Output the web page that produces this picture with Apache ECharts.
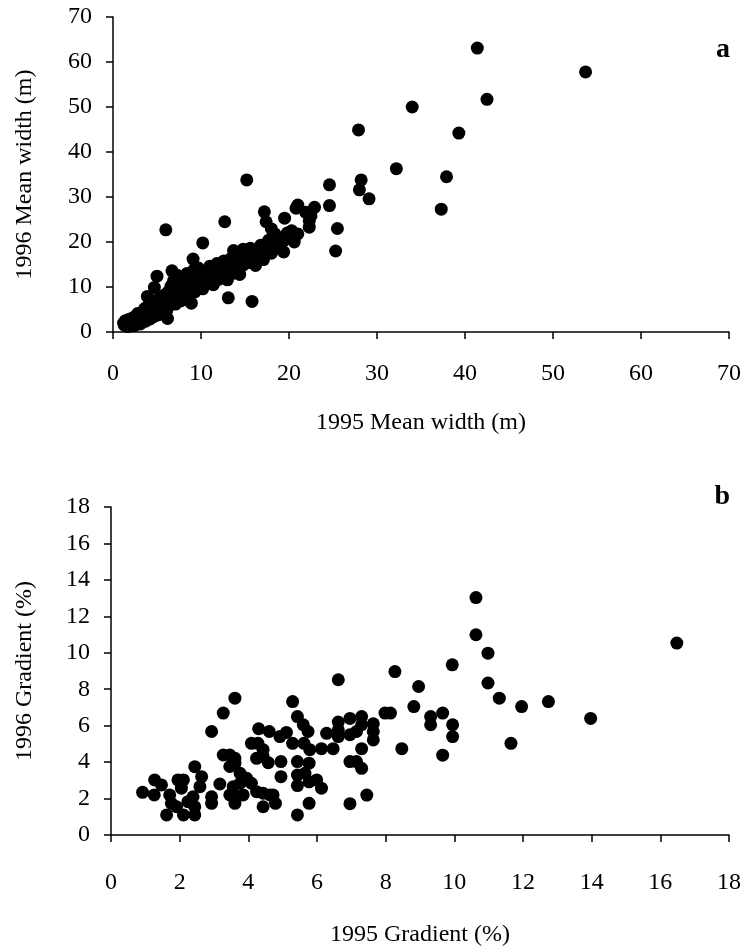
<!DOCTYPE html>
<html>
<head>
<meta charset="utf-8">
<script src="https://cdn.jsdelivr.net/npm/echarts@6/dist/echarts.min.js"></script>
<style>html,body{margin:0;padding:0;background:#fff}#c{width:744px;height:950px}</style>
</head>
<body>
<div id="c"></div>
<script>
// Panel a: mean width (m), [1995, 1996]
const widthOutliers = [
  [41.4,63.1],[53.7,57.8],[42.5,51.7],[34.0,50.0],[27.9,44.9],[39.3,44.2],[32.2,36.3],[37.9,34.5],
  [28.2,33.8],[28.0,31.6],[29.1,29.6],[37.3,27.3],[15.2,33.8],[24.6,32.7],[24.6,28.1],[22.9,27.7],
  [21.0,28.2],[20.8,27.5],[17.2,26.7],[12.7,24.5],[19.5,25.3],[21.9,26.6],[22.5,25.8],[22.3,24.7],
  [22.3,23.3],[25.5,23.0],[25.3,18.0],[17.4,24.5],[10.2,19.8],[18.0,22.9],[18.4,21.8],[20.3,22.5],
  [21.0,21.8],[6.0,22.7],[9.1,16.2],[13.7,18.1],[14.8,18.4],[13.1,7.6],[8.9,6.4],[6.2,3.0],
  [5.0,12.4],[4.7,9.9],[3.9,7.9],[15.8,6.8],[6.7,13.6],[19.4,17.8]
];
const widthCluster = [
  [1.2,2.0],[1.3,1.5],[1.4,2.5],[1.5,1.8],[1.6,2.2],[1.7,1.2],[1.8,2.8],[1.9,1.6],[2.0,2.3],[2.1,3.0],
  [2.2,1.9],[2.3,2.6],[2.4,1.4],[2.5,3.4],[2.6,2.1],[2.7,2.9],[2.8,4.1],[2.9,2.5],[3.0,3.2],[3.1,1.8],
  [3.2,3.8],[3.3,2.7],[3.4,4.5],[3.5,3.1],[3.6,5.2],[3.7,2.4],[3.8,4.0],[3.9,3.5],[4.0,5.8],[4.1,4.3],
  [4.2,2.9],[4.3,3.9],[4.4,6.2],[4.5,4.7],[4.6,3.4],[4.7,5.3],[4.8,7.0],[4.9,4.1],[5.0,5.7],[5.1,3.8],
  [5.2,6.4],[5.3,4.9],[5.4,7.6],[5.5,5.2],[5.6,4.3],[5.7,6.8],[5.8,5.5],[5.9,8.3],[6.0,6.1],[6.1,4.8],
  [6.2,7.3],[6.3,9.0],[6.4,5.9],[6.5,8.0],[6.6,10.2],[6.7,6.6],[6.8,7.7],[6.9,11.5],[7.0,8.5],[7.1,6.2],
  [7.2,9.4],[7.3,12.6],[7.4,7.9],[7.5,10.1],[7.6,8.7],[7.7,6.9],[7.8,11.0],[7.9,9.3],[8.0,12.0],[8.1,7.6],
  [8.2,10.5],[8.3,9.0],[8.4,13.0],[8.5,11.4],[8.6,8.3],[8.7,10.0],[8.8,12.4],[8.9,9.5],[9.0,11.2],[9.2,13.8],
  [9.3,8.9],[9.4,10.8],[9.5,12.2],[9.6,9.8],[9.7,14.2],[9.8,11.5],[9.9,10.3],[10.0,12.8],
  [10.2,9.6],[10.4,11.8],[10.6,13.5],[10.8,10.9],[11.0,14.6],[11.2,12.3],[11.4,10.5],[11.6,13.1],[11.8,15.2],
  [12.0,11.7],[12.2,14.0],[12.4,12.6],[12.6,15.8],[12.8,13.4],[13.0,11.6],[13.2,14.7],[13.4,16.3],[13.6,13.0],
  [13.8,15.2],[14.0,17.0],[14.2,14.1],[14.4,12.8],[14.6,16.0],[14.8,14.9],[15.0,17.6],
  [15.3,15.4],[15.6,18.6],[15.9,16.5],[16.2,14.8],[16.5,17.8],[16.8,19.3],[17.1,16.1],[17.4,18.5],[17.7,20.4],
  [18.0,17.5],[18.3,19.6],[18.6,21.0],[19.0,18.6],[19.4,20.3],[19.8,22.0],[20.2,21.2],[20.6,20.0]
];
// Panel b: gradient (%), [1995, 1996]
const gradientData = [
  [10.63,13.03],[10.63,10.99],[10.98,9.98],[9.94,9.34],[16.48,10.53],[8.27,8.97],[10.98,8.34],[11.31,7.51],
  [8.96,8.15],[11.96,7.05],[12.74,7.32],[13.97,6.4],[8.82,7.05],[6.62,8.52],[7.98,6.69],[8.14,6.69],
  [9.31,6.5],[9.31,6.05],[9.66,6.69],[9.95,6.05],[9.95,5.4],[11.65,5.03],[8.47,4.74],[9.66,4.38],
  [6.96,6.4],[7.3,6.5],[7.64,6.1],[7.64,5.68],[7.64,5.22],[6.62,6.2],[6.62,5.77],[6.62,5.4],
  [6.96,5.5],[7.15,5.68],[7.3,6.05],[6.28,5.58],[6.13,4.74],[6.47,4.74],[7.3,4.74],[6.96,4.03],
  [7.15,4.03],[7.3,3.66],[6.13,2.57],[7.45,2.19],[6.96,1.72],
  [3.61,7.51],[3.27,6.69],[5.29,7.32],[5.43,6.5],[2.93,5.68],[4.3,5.83],[4.61,5.68],[4.92,5.4],
  [5.11,5.63],[5.6,6.05],[5.74,5.68],[5.29,5.03],[5.62,5.03],[5.79,4.68],[4.09,5.03],[4.28,5.03],
  [4.43,4.68],[4.24,4.21],[4.43,4.31],[4.58,3.97],[4.95,4.03],[3.27,4.39],[3.46,4.39],[3.61,4.21],
  [3.46,3.76],[3.61,3.94],[4.95,3.2],[5.43,4.03],[5.43,3.29],[5.65,3.39],[5.43,2.71],[5.77,3.94],
  [5.77,2.92],[5.99,3.02],[5.77,1.74],[5.43,1.1],[3.76,3.39],[3.95,3.11],[4.09,2.84],[3.76,2.84],
  [3.56,2.65],[3.61,1.74],[3.17,2.8],[3.46,2.2],[3.66,2.1],[3.85,2.2],[4.24,2.38],[4.43,2.29],
  [4.63,2.2],[4.43,1.55],[4.79,1.74],[4.72,2.2],[2.44,3.75],[2.11,3.02],[2.64,3.2],[2.59,2.65],
  [2.39,2.1],[2.24,1.83],[2.93,2.1],[2.93,1.74],[2.44,1.55],[2.44,1.1],[2.11,1.1],[1.95,3.02],
  [2.05,2.57],[1.71,2.2],[1.76,1.74],[1.91,1.55],[1.62,1.1],[1.27,3.02],[1.47,2.75],[0.92,2.34],[1.26,2.2]
];
const widthTicks = {min: 0, max: 70, interval: 10};
const gradTicks = {min: 0, max: 18, interval: 2};

const FONT = 'Liberation Serif';
const FS = 24;
const chart = echarts.init(document.getElementById('c'), null, {renderer: 'canvas'});
function xAxis(gi, t, name, gap, margin) {
  return {
    type: 'value', gridIndex: gi, min: t.min, max: t.max, interval: t.interval, name: name,
    nameLocation: 'middle', nameGap: gap,
    nameTextStyle: {fontFamily: FONT, fontSize: FS, color: '#000'},
    axisLine: {show: true, onZero: false, lineStyle: {color: '#000', width: 1.5}},
    axisTick: {show: true, length: 7, lineStyle: {color: '#000', width: 1.5}},
    axisLabel: {fontFamily: FONT, fontSize: FS, color: '#000', margin: margin},
    splitLine: {show: false}
  };
}
function yAxis(gi, t, name, gap) {
  return {
    type: 'value', gridIndex: gi, min: t.min, max: t.max, interval: t.interval, name: name,
    nameLocation: 'middle', nameGap: gap,
    nameTextStyle: {fontFamily: FONT, fontSize: FS, color: '#000'},
    axisLine: {show: true, onZero: false, lineStyle: {color: '#000', width: 1.5}},
    axisTick: {show: true, length: 7, lineStyle: {color: '#000', width: 1.5}},
    axisLabel: {fontFamily: FONT, fontSize: FS, color: '#000', margin: 21},
    splitLine: {show: false}
  };
}
const dot = {color: '#000', opacity: 1};
chart.setOption({
  animation: false,
  backgroundColor: '#fff',
  title: [
    {text: 'a', right: 9, top: 31, textStyle: {fontFamily: FONT, fontWeight: 'bold', fontSize: 28, color: '#000'}},
    {text: 'b', right: 9, top: 478, textStyle: {fontFamily: FONT, fontWeight: 'bold', fontSize: 28, color: '#000'}}
  ],
  grid: [
    {left: 113, right: 13, top: 17, height: 315},
    {left: 111, right: 15, top: 507, height: 328}
  ],
  xAxis: [xAxis(0, widthTicks, '1995 Mean width (m)', 79, 30), xAxis(1, gradTicks, '1995 Gradient (%)', 88, 36)],
  yAxis: [yAxis(0, widthTicks, '1996 Mean width (m)', 76), yAxis(1, gradTicks, '1996 Gradient (%)', 74)],
  series: [
    {type: 'scatter', xAxisIndex: 0, yAxisIndex: 0, symbolSize: 13, itemStyle: dot, data: widthCluster.concat(widthOutliers)},
    {type: 'scatter', xAxisIndex: 1, yAxisIndex: 1, symbolSize: 13, itemStyle: dot, data: gradientData}
  ]
});
</script>
</body>
</html>
